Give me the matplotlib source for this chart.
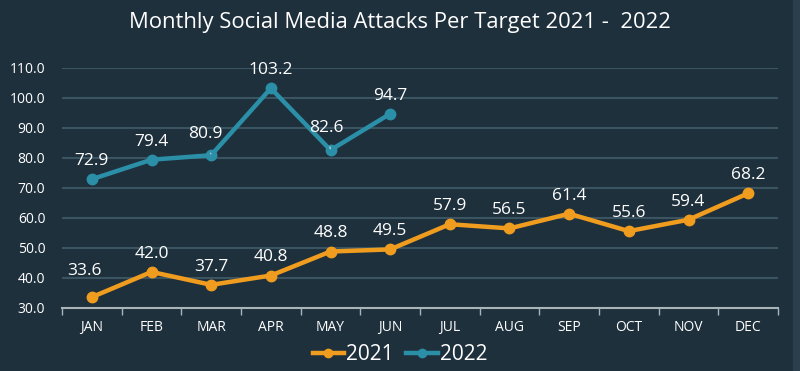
import matplotlib
matplotlib.use('Agg')

import matplotlib.pyplot as plt
import numpy as np

# chart data
months = ['JAN', 'FEB', 'MAR', 'APR', 'MAY', 'JUN', 'JUL', 'AUG', 'SEP', 'OCT', 'NOV', 'DEC']
attacks_2021 = [33.6, 42.0, 37.7, 40.8, 48.8, 49.5, 57.9, 56.5, 61.4, 55.6, 59.4, 68.2]
attacks_2022 = [72.9, 79.4, 80.9, 103.2, 82.6, 94.7]
y_ticks = [30, 40, 50, 60, 70, 80, 90, 100, 110]

BG = '#1f303d'
GRID = '#3a5561'
TXT = '#ffffff'
ORANGE = '#f09d1f'
TEAL = '#2a8fa7'

plt.rcParams['font.family'] = ['Open Sans', 'DejaVu Sans']

fig = plt.figure(figsize=(8, 3.71), dpi=100, facecolor=BG)
ax = fig.add_axes([0.0775, 0.17, 0.895, 0.647])
ax.set_facecolor(BG)
# slightly lighter strip at the right edge
fig.patches.append(plt.Rectangle((0.991, 0), 0.009, 1, transform=fig.transFigure,
                                 color='#2a3e4c', zorder=0))

x = np.arange(len(months))
ax.plot(x, attacks_2021, color=ORANGE, lw=3.2, marker='o', ms=7.5, label='2021', zorder=3)
ax.plot(x[:len(attacks_2022)], attacks_2022, color=TEAL, lw=3.2, marker='o', ms=7.5,
        label='2022', zorder=3)

# data labels (offsets in points)
offsets_2021 = {0: (-5, 19)}
offsets_2022 = {2: (-4, 15), 4: (-3, 16)}
for i, v in enumerate(attacks_2021):
    dx, dy = offsets_2021.get(i, (0, 13))
    ax.annotate(f'{v:.1f}', (x[i], v), xytext=(dx, dy), textcoords='offset points',
                ha='center', va='center', color=TXT, fontsize=12.5)
for i, v in enumerate(attacks_2022):
    dx, dy = offsets_2022.get(i, (0, 13))
    arrow = None
    if i in offsets_2022:
        arrow = dict(arrowstyle='-', color='#dddddd', lw=0.8, shrinkA=6, shrinkB=1)
    ax.annotate(f'{v:.1f}', (x[i], v), xytext=(dx, dy), textcoords='offset points',
                ha='center', va='center', color=TXT, fontsize=12.5, arrowprops=arrow)

ax.set_xlim(-0.5, 11.5)
ax.set_ylim(30, 110)
ax.set_yticks(y_ticks)
ax.set_yticklabels([f'{t:.1f}' for t in y_ticks])
ax.set_xticks(x)
ax.set_xticklabels(months)
ax.set_xticks(np.arange(-0.5, 12, 1), minor=True)
ax.tick_params(axis='x', which='major', length=0, pad=9, colors=TXT, labelsize=10)
ax.tick_params(axis='x', which='minor', length=5, width=1, color='#a8b4b8', direction='out')
ax.tick_params(axis='y', length=0, pad=12, colors=TXT, labelsize=10)

ax.grid(axis='y', color=GRID, lw=1.5)
ax.set_axisbelow(True)
for s in ['top', 'right', 'left']:
    ax.spines[s].set_visible(False)
ax.spines['bottom'].set_color('#a8b4b8')
ax.spines['bottom'].set_linewidth(1.5)
ax.spines['bottom'].set_zorder(2)

fig.text(0.5, 0.94, 'Monthly Social Media Attacks Per Target 2021 -  2022',
         ha='center', va='center', color=TXT, fontsize=15.8)

fig.legend(loc='center', bbox_to_anchor=(0.5, 0.045), ncol=2, frameon=False,
           fontsize=15, labelcolor=TXT, handlelength=1.5, handletextpad=0.1,
           columnspacing=0.6, markerscale=0.8)

fig.savefig('out.png', facecolor=BG)
